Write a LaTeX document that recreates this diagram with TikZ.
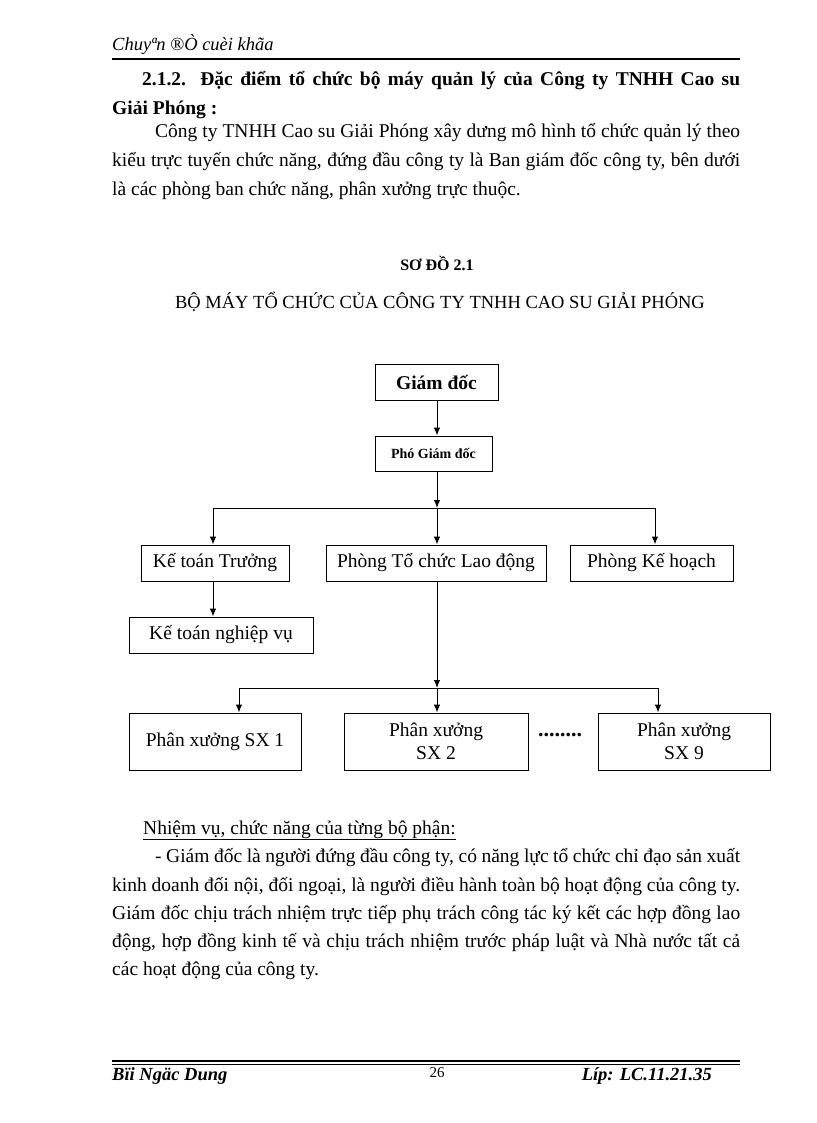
\documentclass[tikz,border=0pt]{standalone}
\usepackage{fontspec}
\setmainfont{Liberation Serif}
\usetikzlibrary{arrows.meta}
\usetikzlibrary{positioning}
\tikzset{
	textline/.style = {anchor=base west, inner sep=0pt, font=\fontsize{19.5}{23}\selectfont},
	box/.style = {draw, line width=1pt, inner sep=2pt, align=center, font=\fontsize{19.5}{23}\selectfont},
	}

\begin{document}
\begin{tikzpicture}
		[x=1pt, y=-1pt,
		> = {Latex[length=8pt,width=6.5pt]},
		conn/.style = {line width=1pt}
		]
		\useasboundingbox (0,0) rectangle (816,1123);

		% header
		\node[textline, font=\fontsize{18.5}{22}\selectfont\itshape] (hdr) at (112,51) {Chuyªn ®Ò cuèi khãa};
		\draw[line width=1.8pt] (112,59) -- (740,59);

		% heading and first paragraph
		\node[textline, font=\fontsize{19.5}{23}\selectfont\bfseries] (h1) at (142,86) {\makebox[598pt][s]{2.1.2. Đặc điểm tổ chức bộ máy quản lý của Công ty TNHH Cao su}};
		\node[textline, font=\fontsize{19.5}{23}\selectfont\bfseries] (h2) at (112,115) {Giải Phóng :};
		\node[textline] (p1) at (155,138) {\makebox[585pt][s]{Công ty TNHH Cao su Giải Phóng xây dưng mô hình tổ chức quản lý theo}};
		\node[textline] (p2) at (112,167) {\makebox[628pt][s]{kiểu trực tuyến chức năng, đứng đầu công ty là Ban giám đốc công ty, bên dưới}};
		\node[textline] (p3) at (112,196) {là các phòng ban chức năng, phân xưởng trực thuộc.};

		% titles
		\node[inner sep=0pt, anchor=base, font=\fontsize{16}{19}\selectfont\bfseries] (sodo) at (437,270) {SƠ ĐỒ 2.1};
		\node[inner sep=0pt, anchor=base, font=\fontsize{18.5}{22}\selectfont] (title) at (440,308) {BỘ MÁY TỔ CHỨC CỦA CÔNG TY TNHH CAO SU GIẢI PHÓNG};

		% boxes
		\node[box, minimum width=123pt, minimum height=36pt, font=\fontsize{19.5}{23}\selectfont\bfseries] (gd) at (436.5,382) {Giám đốc};
		\node[box, minimum width=117pt, minimum height=35pt, font=\fontsize{14}{17}\selectfont\bfseries] (pgd) at (433.5,453.5) {Phó Giám đốc};
		\node[box, minimum width=148pt, minimum height=36pt] (ktt) at (215,563) {Kế toán Trưởng};
		\node[box, minimum width=220pt, minimum height=36pt] (ptc) at (436,563) {Phòng Tổ chức Lao động};
		\node[box, minimum width=163pt, minimum height=36pt] (pkh) at (651.5,563) {Phòng Kế hoạch};
		\node[box, minimum width=184pt, minimum height=36pt] (ktnv) at (221,635) {Kế toán nghiệp vụ};
		\node[box, minimum width=172pt, minimum height=57pt] (px1) at (215,741.5) {Phân xưởng SX 1};
		\node[box, minimum width=184pt, minimum height=57pt] (px2) at (436,741.5) {Phân xưởng\\SX 2};
		\node[box, minimum width=172pt, minimum height=57pt] (px9) at (684,741.5) {Phân xưởng\\SX 9};
		\node[inner sep=0pt, font=\fontsize{22}{24}\selectfont\bfseries] (dots) at (560,735) {........};

		\coordinate (b1) at (437,508);
		\coordinate (b2) at (437,688);

		% connectors
		\draw[conn,->] (gd.south -| b1) -- (b1 |- pgd.north);
		\draw[conn,->] (b1 |- pgd.south) -- (b1);
		\draw[conn,->] (b1) -| ([xshift=-2pt]ktt.north);
		\draw[conn,->] (b1) -- (b1 |- ptc.north);
		\draw[conn,->] (b1) -| ([xshift=3.5pt]pkh.north);
		\draw[conn,->] ([xshift=-2pt]ktt.south) -- ([xshift=-2pt]ktt.south |- ktnv.north);
		\draw[conn,->] (b2 |- ptc.south) -- (b2);
		\draw[conn,->] (b2) -| ([xshift=24pt]px1.north);
		\draw[conn,->] (b2) -- (b2 |- px2.north);
		\draw[conn,->] (b2) -| ([xshift=-26pt]px9.north);

		% tasks
		\node[textline] (nv) at (143,834) {\underline{Nhiệm vụ, chức năng của từng bộ phận:}};
		\node[textline] (t1) at (155,862) {\makebox[585pt][s]{- Giám đốc là người đứng đầu công ty, có năng lực tổ chức chỉ đạo sản xuất}};
		\node[textline] (t2) at (112,891) {\makebox[628pt][s]{kinh doanh đối nội, đối ngoại, là người điều hành toàn bộ hoạt động của công ty.}};
		\node[textline] (t3) at (112,919) {\makebox[628pt][s]{Giám đốc chịu trách nhiệm trực tiếp phụ trách công tác ký kết các hợp đồng lao}};
		\node[textline] (t4) at (112,947) {\makebox[628pt][s]{động, hợp đồng kinh tế và chịu trách nhiệm trước pháp luật và Nhà nước tất cả}};
		\node[textline] (t5) at (112,975) {các hoạt động của công ty.};

		% footer
		\draw[line width=1.4pt] (112,1061) -- (740,1061);
		\draw[line width=0.7pt] (112,1064.5) -- (740,1064.5);
		\node[textline, font=\fontsize{18.5}{22}\selectfont\bfseries\itshape] (name) at (112,1080) {Bïi Ngäc Dung};
		\node[inner sep=0pt, anchor=base, font=\fontsize{15}{18}\selectfont] (page) at (437,1077) {26};
		\node[inner sep=0pt, anchor=base east, font=\fontsize{18.5}{22}\selectfont\bfseries\itshape] (class) at (712,1080) {Líp: LC.11.21.35};
	\end{tikzpicture}
\end{document}
